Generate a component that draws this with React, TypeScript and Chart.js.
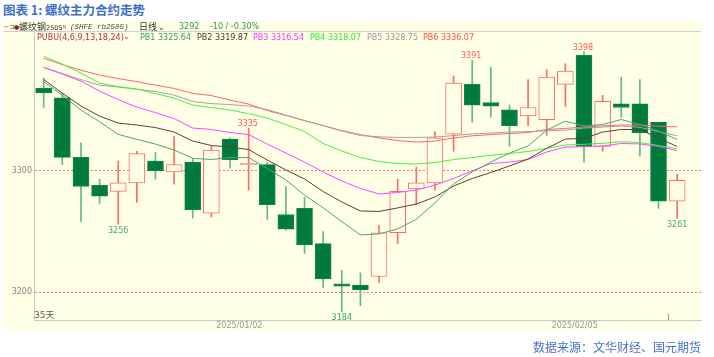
import React, { useEffect, useRef } from "react";
import { Chart, registerables } from "chart.js";

Chart.register(...registerables);

// ---- data ----
const dates = [
  "2024/12/17", "2024/12/18", "2024/12/19", "2024/12/20", "2024/12/23", "2024/12/24", "2024/12/25",
  "2024/12/26", "2024/12/27", "2024/12/30", "2024/12/31", "2025/01/02", "2025/01/03", "2025/01/06",
  "2025/01/07", "2025/01/08", "2025/01/09", "2025/01/10", "2025/01/13", "2025/01/14", "2025/01/15",
  "2025/01/16", "2025/01/17", "2025/01/20", "2025/01/21", "2025/01/22", "2025/01/23", "2025/01/24",
  "2025/01/27", "2025/02/05", "2025/02/06", "2025/02/07", "2025/02/10", "2025/02/11", "2025/02/12",
];
const opens = [3368, 3360, 3311, 3288, 3283, 3290, 3308, 3299, 3307, 3265, 3326, 3305, 3305, 3264, 3269, 3240, 3207, 3206, 3213, 3249, 3285, 3290, 3330, 3371, 3356, 3350, 3345, 3342, 3371, 3395, 3320, 3355, 3355, 3340, 3275];
const highs = [3376, 3364, 3323, 3293, 3308, 3316, 3315, 3328, 3310, 3320, 3327, 3335, 3307, 3287, 3278, 3250, 3218, 3216, 3255, 3293, 3303, 3332, 3378, 3391, 3385, 3354, 3375, 3383, 3388, 3398, 3362, 3377, 3375, 3340, 3297];
const lows = [3352, 3305, 3258, 3273, 3256, 3274, 3293, 3289, 3261, 3262, 3302, 3284, 3260, 3251, 3232, 3204, 3184, 3189, 3208, 3240, 3272, 3284, 3316, 3340, 3344, 3320, 3337, 3329, 3353, 3307, 3316, 3344, 3312, 3269, 3261];
const closes = [3364, 3311, 3287, 3279, 3290, 3314, 3300, 3305, 3268, 3317, 3309, 3306, 3272, 3252, 3239, 3211, 3205, 3202, 3249, 3283, 3290, 3327, 3372, 3354, 3353, 3337, 3352, 3377, 3382, 3320, 3357, 3352, 3331, 3275, 3292];

const pb1 = [3373.1, 3362.2, 3349.9, 3340.4, 3329.9, 3325.8, 3321.9, 3317.0, 3310.2, 3309.2, 3310.8, 3310.8, 3301.8, 3292.4, 3280.0, 3269.4, 3258.1, 3247.2, 3248.0, 3252.1, 3260.1, 3273.5, 3289.1, 3299.0, 3307.1, 3314.5, 3320.3, 3333.4, 3340.8, 3336.7, 3338.0, 3342.1, 3338.0, 3332.6, 3325.64];
const pb2 = [3375.1, 3363.8, 3353.2, 3344.9, 3339.2, 3337.6, 3335.5, 3331.8, 3324.4, 3320.7, 3319.5, 3317.4, 3308.8, 3300.6, 3293.2, 3282.9, 3274.3, 3266.9, 3266.5, 3269.4, 3272.6, 3278.4, 3287.4, 3293.6, 3298.5, 3303.9, 3309.6, 3318.4, 3326.0, 3326.6, 3331.8, 3333.9, 3333.9, 3326.9, 3319.87];
const pb3 = [3385.0, 3379.5, 3373.7, 3365.5, 3358.5, 3352.3, 3347.8, 3342.9, 3335.1, 3333.9, 3331.4, 3329.7, 3321.9, 3314.5, 3307.1, 3299.0, 3291.5, 3285.4, 3280.9, 3282.1, 3284.1, 3288.2, 3293.6, 3299.8, 3305.9, 3307.1, 3309.2, 3315.4, 3319.5, 3319.7, 3320.3, 3322.4, 3322.0, 3319.9, 3316.54];
const pb4 = [3394.2, 3387.7, 3380.3, 3372.1, 3369.2, 3367.1, 3363.4, 3359.7, 3354.0, 3351.9, 3349.9, 3347.0, 3343.3, 3338.0, 3332.2, 3322.4, 3316.2, 3310.8, 3307.6, 3305.9, 3305.5, 3306.7, 3309.2, 3310.8, 3312.7, 3314.1, 3315.8, 3318.4, 3321.1, 3321.7, 3322.5, 3323.8, 3323.2, 3320.7, 3318.07];
const pb5 = [3385.0, 3379.9, 3374.9, 3370.4, 3368.8, 3367.1, 3365.1, 3362.2, 3356.9, 3355.2, 3354.4, 3353.2, 3350.3, 3345.8, 3341.2, 3337.1, 3332.6, 3328.9, 3327.9, 3327.4, 3327.4, 3327.7, 3328.9, 3330.2, 3331.0, 3331.8, 3332.2, 3332.8, 3333.4, 3335.1, 3335.9, 3336.7, 3335.7, 3332.2, 3328.75];
const pb6 = [3392.4, 3387.3, 3382.7, 3378.6, 3375.8, 3373.3, 3370.4, 3367.7, 3363.6, 3361.8, 3358.1, 3354.8, 3349.5, 3345.4, 3341.2, 3337.1, 3333.0, 3329.7, 3326.9, 3324.8, 3323.6, 3324.4, 3326.9, 3328.7, 3329.7, 3330.6, 3331.4, 3333.9, 3334.8, 3335.9, 3336.9, 3337.6, 3337.6, 3336.7, 3336.07];

const labeledDates = ["2025/01/02", "2025/02/05"];
const yTickValues = [3200, 3300];
const highMarkDates = ["2025/01/02", "2025/01/20", "2025/02/05"];
const lowMarkDates = ["2024/12/23", "2025/01/09", "2025/02/12"];

const pbNames = ["PB1", "PB2", "PB3", "PB4", "PB5", "PB6"];
const pbSeries = [pb1, pb2, pb3, pb4, pb5, pb6];
const pbColors = ["#45a874", "#5e4034", "#ff44ff", "#44ee44", "#a8a29a", "#ff6666"];

const BG = "#FFFFE6";
const UP = "#ff6a6a";
const DOWN_FILL = "#007a3d";
const DOWN_BORDER = "#13864b";
const DOWN_WICK = "#5fb98a";

const overlayPlugin = {
  id: "overlay",
  afterDatasetsDraw(chart: any) {
    const { ctx, chartArea, scales } = chart;
    const x = scales.x;
    const y = scales.y;
    ctx.save();
    ctx.font = '8px "DejaVu Sans"';
    ctx.textAlign = "center";
    ctx.textBaseline = "alphabetic";
    ctx.fillStyle = "#ff5a5a";
    highMarkDates.forEach((d) => {
      const i = dates.indexOf(d);
      ctx.fillText(String(highs[i]), x.getPixelForValue(i) - 1, y.getPixelForValue(highs[i]) - 2);
    });
    ctx.fillStyle = "#45a874";
    lowMarkDates.forEach((d) => {
      const i = dates.indexOf(d);
      ctx.fillText(String(lows[i]), x.getPixelForValue(i), y.getPixelForValue(lows[i]) + 8.5);
    });
    ctx.textAlign = "left";
    ctx.font = '9px "DejaVu Sans", "Noto Sans CJK SC"';
    ctx.fillStyle = "#4d6b4d";
    ctx.fillText(dates.length + "天", chartArea.left, chartArea.bottom - 2);
    const px = Math.round(x.getPixelForValue(dates.length - 1.5)) + 0.5;
    ctx.strokeStyle = "#999";
    ctx.lineWidth = 1;
    ctx.beginPath();
    ctx.moveTo(px, chartArea.bottom - 6);
    ctx.lineTo(px, chartArea.bottom);
    ctx.stroke();
    ctx.restore();
  },
};

export default function App() {
  const ref = useRef<HTMLCanvasElement | null>(null);

  useEffect(() => {
    if (!ref.current) return;
    const isUp = closes.map((c, i) => c >= opens[i]);
    const lineSets = pbSeries.map((s, k) => ({
      type: "line" as const,
      label: pbNames[k],
      data: s.map((v, i) => ({ x: i, y: v })),
      borderColor: pbColors[k],
      borderWidth: 1,
      pointRadius: 0,
      tension: 0,
      fill: false,
      order: 0,
    }));
    const bodies = {
      type: "bar" as const,
      label: "body",
      data: opens.map((o, i) => ({ x: i, y: [o, closes[i]] })),
      backgroundColor: isUp.map((u) => (u ? BG : DOWN_FILL)),
      borderColor: isUp.map((u) => (u ? UP : DOWN_BORDER)),
      borderWidth: 1,
      borderSkipped: false,
      barThickness: 16,
      grouped: false,
      order: 1,
    };
    const wicks = {
      type: "bar" as const,
      label: "wick",
      data: lows.map((l, i) => ({ x: i, y: [l, highs[i]] })),
      backgroundColor: isUp.map((u) => (u ? UP : DOWN_WICK)),
      borderWidth: 0,
      barThickness: 1,
      grouped: false,
      order: 2,
    };
    const tickIdx = labeledDates.map((d) => dates.indexOf(d) - 0.5);

    const chart = new Chart(ref.current, {
      type: "bar",
      data: { datasets: [...lineSets, bodies, wicks] as any },
      options: {
        responsive: false,
        animation: false,
        devicePixelRatio: 1,
        layout: { padding: { left: 0, right: 13, top: 32, bottom: 27 } },
        plugins: { legend: { display: false }, tooltip: { enabled: false } },
        scales: {
          x: {
            type: "linear",
            min: -0.52,
            max: 35.28,
            offset: false,
            afterBuildTicks: (s: any) => {
              s.ticks = tickIdx.map((v) => ({ value: v }));
            },
            afterFit: (s: any) => {
              s.height = 10;
            },
            grid: { display: false, drawTicks: false },
            border: { display: true, color: "#c8c8c8" },
            ticks: {
              padding: 1,
              autoSkip: false,
              maxRotation: 0,
              color: "#999",
              font: { family: "DejaVu Sans", size: 8 },
              callback: (v: any) => {
                const k = tickIdx.indexOf(Number(v));
                return k >= 0 ? labeledDates[k] : "";
              },
            },
          },
          y: {
            min: 3177.2,
            max: 3414.1,
            afterBuildTicks: (s: any) => {
              s.ticks = yTickValues.map((v) => ({ value: v }));
            },
            afterFit: (s: any) => {
              s.width = 34;
            },
            grid: { color: "#ff7070", drawTicks: false, lineWidth: 1 },
            border: { display: true, color: "#c8c8c8", dash: [2, 2] },
            ticks: {
              padding: 2,
              color: "#888",
              font: { family: "DejaVu Sans", size: 8 },
              callback: (v: any) => String(v),
            },
          },
        },
      } as any,
      plugins: [overlayPlugin],
    });
    return () => chart.destroy();
  }, []);

  const small: React.CSSProperties = {
    position: "absolute",
    fontFamily: '"DejaVu Sans", "Noto Sans CJK SC", sans-serif',
    fontSize: 8,
    lineHeight: "10px",
    whiteSpace: "nowrap",
  };
  const cjk: React.CSSProperties = {
    ...small,
    fontFamily: '"Noto Sans CJK SC", sans-serif',
    fontSize: 9,
    lineHeight: "12px",
    color: "#333",
  };
  const pbLeft = [140, 197, 253, 310, 367, 423];
  const pbText = ["#3a9a6a", "#4a3434", "#ff33ff", "#33e833", "#999999", "#ff4d4d"];
  const finals = pbSeries.map((s) => s[s.length - 1].toFixed(2));
  const last = closes[closes.length - 1];

  return (
    <div style={{ position: "absolute", left: 0, top: 0, width: 714, height: 357, background: "#fff", overflow: "hidden" }}>
      <div
        style={{
          position: "absolute",
          left: 3,
          top: 2,
          fontFamily: '"Noto Sans CJK SC", sans-serif',
          fontWeight: 700,
          fontSize: 12.5,
          lineHeight: "16px",
          color: "#3d6fc4",
          whiteSpace: "nowrap",
        }}
      >
        图表 1: 螺纹主力合约走势
      </div>
      <div style={{ position: "absolute", left: 3, top: 21, width: 698, height: 309, background: BG }} />
      <div style={{ position: "absolute", left: 3, top: 31, width: 698, height: 1, background: "#d2d2c8" }} />
      <canvas ref={ref} width={714} height={357} style={{ position: "absolute", left: 0, top: 0, width: 714, height: 357 }} />
      {/* header row 1 */}
      <span style={{ ...small, left: 3, top: 22, color: "#555", fontSize: 7 }}>∽⊐</span>
      <span style={{ ...small, left: 14, top: 22, color: "#8b1a1a", fontSize: 6 }}>●</span>
      <span style={{ ...cjk, left: 19, top: 21 }}>
        螺纹钢<span style={{ fontSize: 6.5, fontFamily: '"DejaVu Sans", sans-serif' }}>2505</span>
        <span style={{ fontSize: 5, color: "#ff4040", verticalAlign: "top" }}>M</span>
      </span>
      <span style={{ ...small, left: 70, top: 22, color: "#444", fontSize: 7.5, fontStyle: "italic", fontFamily: '"Liberation Mono", monospace' }}>
        (SHFE rb2505)
      </span>
      <span style={{ ...cjk, left: 139, top: 21 }}>
        日线<span style={{ fontSize: 8, marginLeft: 1 }}>⌄</span>
      </span>
      <span style={{ ...small, left: 179, top: 22, color: "#2e9a5e" }}>{last}</span>
      <span style={{ ...small, left: 210, top: 22, color: "#2e9a5e" }}>-10 / -0.30%</span>
      {/* header row 2 */}
      <span style={{ ...small, left: 37, top: 33, color: "#b8323a" }}>PUBU(4,6,9,13,18,24)</span>
      <span style={{ ...small, left: 123, top: 32, color: "#b8323a" }}>⌄</span>
      {pbNames.map((n, k) => (
        <span key={n} style={{ ...small, left: pbLeft[k], top: 33, color: pbText[k] }}>
          {n} {finals[k]}
        </span>
      ))}
      <div
        style={{
          position: "absolute",
          left: 533,
          top: 339,
          fontFamily: '"Noto Sans CJK SC", sans-serif',
          fontSize: 12,
          lineHeight: "16px",
          color: "#4a72c4",
          whiteSpace: "nowrap",
        }}
      >
        数据来源：文华财经、国元期货
      </div>
    </div>
  );
}
